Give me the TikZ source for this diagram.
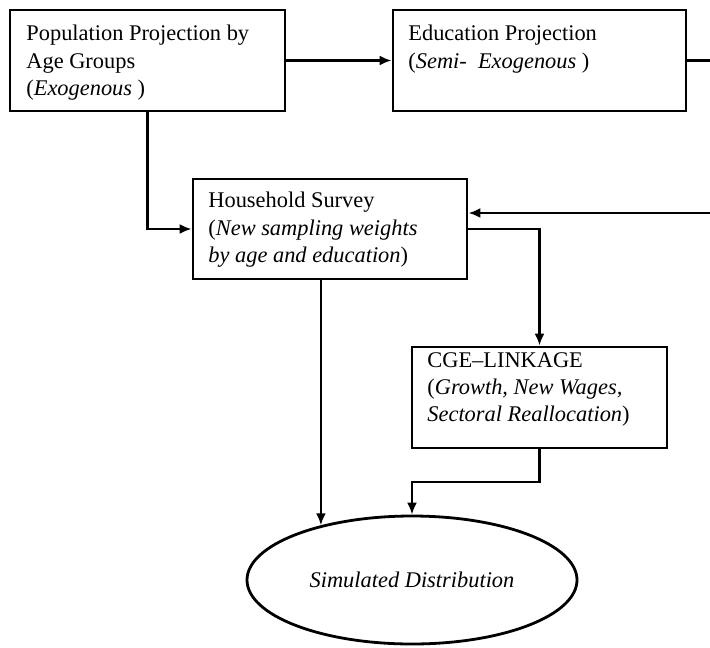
\documentclass[tikz,border=0pt]{standalone}
\usepackage{fontspec}
\setmainfont{Liberation Serif}
\usetikzlibrary{arrows.meta,shapes.geometric}
\begin{document}
\begin{tikzpicture}[x=0.5pt,y=-0.5pt,
  box/.style={draw,line width=1.4pt,rectangle,inner sep=0pt},
  txt/.style={anchor=north west,inner sep=0pt,align=left,font=\fontsize{11.2pt}{13.6pt}\selectfont},
  arr/.style={line width=1.3pt,-{Latex[length=6pt,width=5pt]}},
  ln/.style={line width=1.3pt}]
\useasboundingbox (0,0) rectangle (710,647);
% boxes
\node[box,minimum width=137.5pt,minimum height=50.5pt] (b1) at (147.5,60.5) {};
\node[box,minimum width=146.5pt,minimum height=50.5pt] (b2) at (539.5,60.5) {};
\node[box,minimum width=137pt,minimum height=50pt] (b3) at (330,229) {};
\node[box,minimum width=127.5pt,minimum height=50.5pt] (b4) at (539.5,397.5) {};
\node[draw,line width=1.4pt,ellipse,inner sep=0pt,minimum width=165pt,minimum height=64pt,font=\fontsize{11.2pt}{13.6pt}\selectfont\itshape] (el) at (412,580) {Simulated Distribution};
% texts
\node[txt] (t1) at (26,25) {Population Projection by\\Age Groups\\(\textit{Exogenous} )};
\node[txt] (t2) at (408,25) {Education Projection\\(\textit{Semi-}\ \ \textit{Exogenous} )};
\node[txt] (t3) at (208,192) {Household Survey\\(\textit{New sampling weights}\\\textit{by age and education})};
\node[txt] (t4) at (427,352) {CGE–LINKAGE\\(\textit{Growth, New Wages,}\\\textit{Sectoral Reallocation})};
% free ends at the right edge
\coordinate (eR1) at (710,60.5);
\coordinate (eR2) at (710,213);
% connectors
\draw[arr] (b1.east) -- (b2.west);
\draw[ln] (b2.east) -- (eR1);
\draw[arr] (eR2) -- (eR2 -| b3.east);
\draw[arr] (b1.south) -- (b1.south |- b3.west) -- (b3.west);
\draw[arr] (b3.east) -- (b3.east -| b4.north) -- (b4.north);
\draw[arr] (b3.south -| el.149.2) -- (el.149.2);
\draw[arr] (b4.south) -- (b4.south |- 0,482) -- (el.north |- 0,482) -- (el.north);
\end{tikzpicture}
\end{document}
